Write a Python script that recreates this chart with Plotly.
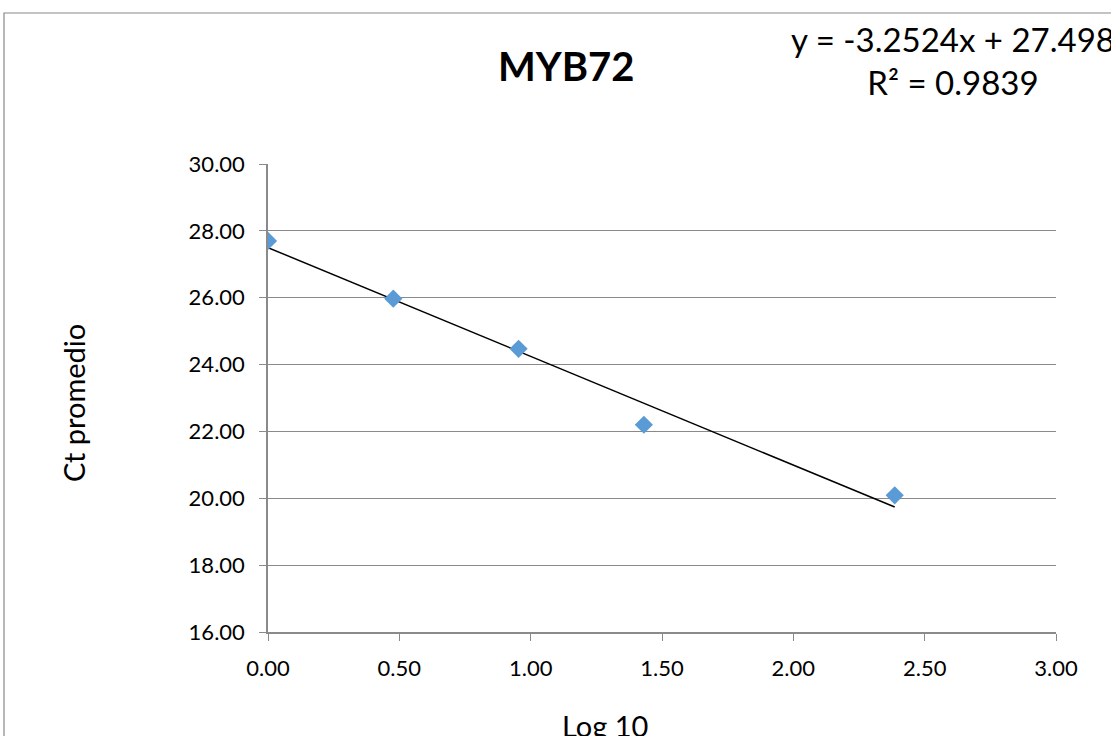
import plotly.graph_objects as go

# Data
log10_x = [0.0, 0.477, 0.954, 1.431, 2.386]
ct_promedio = [27.70, 25.97, 24.47, 22.20, 20.09]
slope = -3.2524
intercept = 27.498
r_squared = 0.9839
x_ticks = [0.0, 0.5, 1.0, 1.5, 2.0, 2.5, 3.0]
y_ticks = [16, 18, 20, 22, 24, 26, 28, 30]

W, H = 1111, 736
L, R, T, B = 268, 1056, 164, 632

def px_x(p):
    return (p - L) / (R - L)

def px_y(p):
    return (B - p) / (B - T)

FONT = "Lato, 'Open Sans', sans-serif"
GRID = "#8a8a8a"

trend_x = [min(log10_x), max(log10_x)]
trend_y = [slope * v + intercept for v in trend_x]

fig = go.Figure()
fig.add_trace(go.Scatter(x=trend_x, y=trend_y, mode="lines",
                         line=dict(color="black", width=1.5), showlegend=False,
                         hoverinfo="skip"))
fig.add_trace(go.Scatter(x=log10_x, y=ct_promedio, mode="markers",
                         marker=dict(symbol="diamond", size=14, color="#5B9BD5",
                                     line=dict(width=0)),
                         showlegend=False))

fig.update_layout(
    width=W, height=H,
    margin=dict(l=L, r=W - R, t=T, b=H - B),
    paper_bgcolor="white", plot_bgcolor="white",
    font=dict(family=FONT, color="black"),
    xaxis=dict(range=[0, 3], tickvals=x_ticks, tickformat=".2f",
               showgrid=False, zeroline=False, showline=True, linecolor=GRID,
               linewidth=1.5, ticks="outside", ticklen=7, tickcolor=GRID,
               tickfont=dict(size=22, family=FONT), ticklabelstandoff=9),
    yaxis=dict(range=[16, 30], tickvals=y_ticks, tickformat=".2f",
               showgrid=True, gridcolor=GRID, gridwidth=1.3, zeroline=False,
               showline=True, linecolor=GRID, linewidth=1.5,
               ticks="outside", ticklen=7, tickcolor=GRID,
               tickfont=dict(size=22, family=FONT), ticklabelstandoff=10),
)

annotations = [
    dict(text="<b>MYB72</b>", x=px_x(566), y=px_y(66), font=dict(size=40)),
    dict(text=f"y = {slope}x + {intercept}<br>R² = {r_squared}",
         x=px_x(953), y=px_y(61), font=dict(size=33), align="center"),
    dict(text="Log 10", x=px_x(605), y=px_y(725), font=dict(size=29)),
    dict(text="Ct promedio", x=px_x(73), y=px_y(403), font=dict(size=29),
         textangle=-90),
]
for a in annotations:
    fig.add_annotation(xref="paper", yref="paper", showarrow=False,
                       xanchor="center", yanchor="middle", **a)

fig.add_shape(type="rect", xref="paper", yref="paper",
              x0=px_x(4), x1=px_x(1140), y0=px_y(13), y1=px_y(760),
              line=dict(color="#888888", width=1.2), layer="below")

fig.write_html("out.html",
               config={"displayModeBar": False},
               post_script="document.body.style.margin='0px';"
                           "document.body.style.overflow='hidden';")
